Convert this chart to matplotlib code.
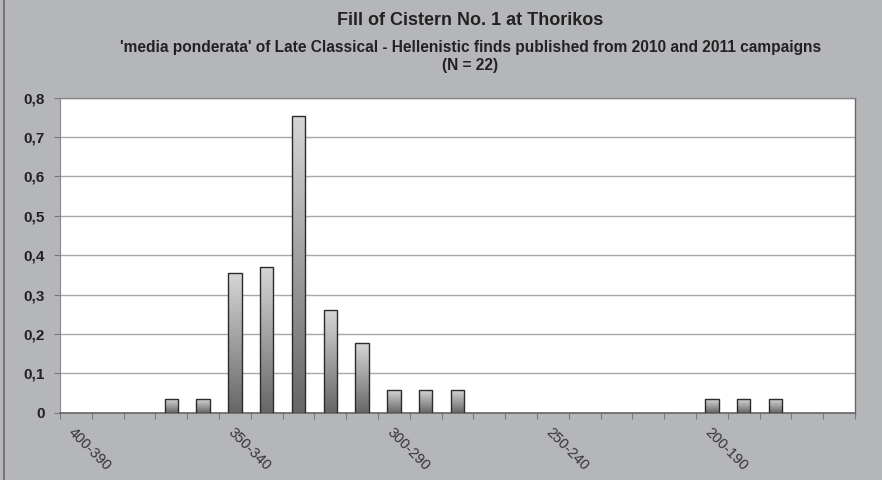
import matplotlib
matplotlib.use("Agg")
import matplotlib.pyplot as plt
from matplotlib.lines import Line2D
import numpy as np

# periods, 400-390 down to 160-150
starts = list(range(400, 150, -10))
periods = ["%d-%d" % (s, s - 10) for s in starts]

# media ponderata per period
values = [0, 0, 0, 0.034, 0.034, 0.355, 0.37, 0.754, 0.261, 0.177,
          0.057, 0.057, 0.057, 0, 0, 0, 0, 0, 0, 0,
          0.034, 0.034, 0.034, 0, 0]

shown_labels = ["400-390", "350-340", "300-290", "250-240", "200-190"]

bg = "#b5b6b9"
plt.rcParams["font.family"] = ["Liberation Sans", "DejaVu Sans"]

fig = plt.figure(figsize=(8.82, 4.8), dpi=100, facecolor=bg)
ax = fig.add_axes([0.068, 0.140, 0.9014, 0.6565])
ax.set_facecolor("white")

x = np.arange(len(periods))
vals = np.array(values)
nz = vals > 0
bars = ax.bar(x[nz], vals[nz], width=0.42, color="none", edgecolor="#2b2b2b",
              linewidth=1.0, zorder=3)

# vertical gradient in each bar, light on top
grad = np.linspace(0.84, 0.40, 256).reshape(-1, 1)
for b in bars:
    h = b.get_height()
    x0 = b.get_x()
    w = b.get_width()
    im = ax.imshow(grad, extent=[x0, x0 + w, 0, h], origin="upper",
                   cmap="gray", vmin=0, vmax=1, aspect="auto", zorder=2)
    im.set_clip_path(b)

ax.set_xlim(-0.5, len(periods) - 0.5)
ax.set_ylim(0, 0.8)
ax.set_yticks(np.arange(0, 0.81, 0.1))
ax.set_yticklabels(["0"] + [("%.1f" % v).replace(".", ",") for v in np.arange(0.1, 0.81, 0.1)],
                   fontsize=11, fontweight="bold", color="#222222")
ax.yaxis.grid(True, color="#a8a8a8", linewidth=1.0, zorder=0)
ax.set_axisbelow(True)

# ticks between categories, labels at every fifth category
ax.set_xticks(np.arange(-0.5, len(periods), 1.0))
ax.set_xticklabels([])
ax.set_xticks(x, minor=True)
ax.set_xticklabels([p if p in shown_labels else "" for p in periods], minor=True,
                   rotation=-45, ha="left", va="top", rotation_mode="anchor",
                   fontsize=10.5, color="#333333")
ax.tick_params(axis="x", which="major", length=4, color="#777777", direction="out")
ax.tick_params(axis="x", which="minor", length=0, pad=9)
ax.tick_params(axis="y", length=4, color="#777777", pad=7)

for s in ["top", "right"]:
    ax.spines[s].set_color("#888888")
    ax.spines[s].set_linewidth(1.0)
ax.spines["right"].set_color("#666666")
ax.spines["left"].set_color("#888888")
ax.spines["bottom"].set_color("#666666")
ax.spines["bottom"].set_linewidth(1.2)

# thin frame line at the left edge of the picture
fig.add_artist(Line2D([0.005, 0.005], [0, 1], transform=fig.transFigure,
                      color="#6a6a6a", linewidth=1.2))

fig.text(0.533, 0.957, "Fill of Cistern No. 1 at Thorikos", ha="center", va="center",
         fontsize=13, fontweight="bold", color="#222222")
fig.text(0.533, 0.901, "'media ponderata' of Late Classical - Hellenistic finds published from 2010 and 2011 campaigns",
         ha="center", va="center", fontsize=11.2, fontweight="bold", color="#222222")
fig.text(0.533, 0.864, "(N = 22)", ha="center", va="center",
         fontsize=11.2, fontweight="bold", color="#222222")

fig.savefig("out.png", dpi=100, facecolor=bg)
